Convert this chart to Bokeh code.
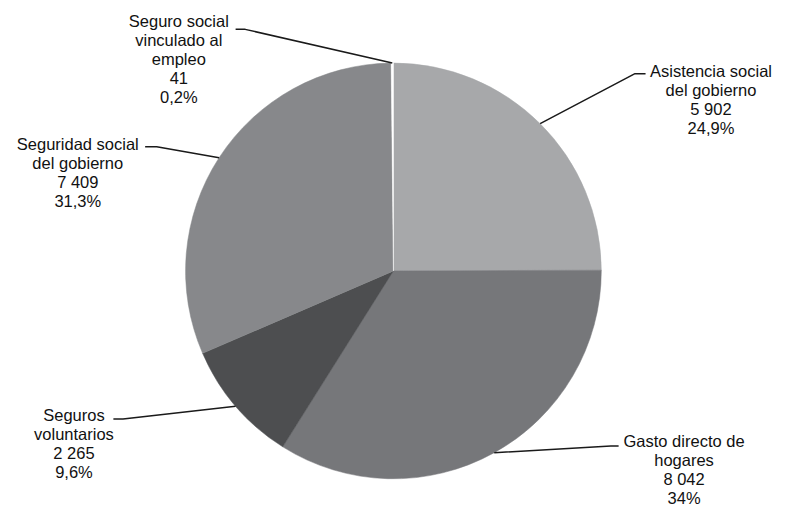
import numpy as np
from bokeh.plotting import figure
from bokeh.models import Range1d, ColumnDataSource
from bokeh.embed import file_html
from bokeh.resources import INLINE
from bokeh.core.properties import value

# ---- data ----
categories = ["Asistencia social del gobierno", "Gasto directo de hogares",
              "Seguros voluntarios", "Seguridad social del gobierno",
              "Seguro social vinculado al empleo"]
name_lines = [["Asistencia social", "del gobierno"],
              ["Gasto directo de", "hogares"],
              ["Seguros", "voluntarios"],
              ["Seguridad social", "del gobierno"],
              ["Seguro social", "vinculado al", "empleo"]]
values = [5902, 8042, 2265, 7409, 41]
value_labels = ["5 902", "8 042", "2 265", "7 409", "41"]
pct_labels = ["24,9%", "34%", "9,6%", "31,3%", "0,2%"]

# ---- style / layout ----
colors = ["#a7a8aa", "#76777a", "#4d4e50", "#87888b", "#ffffff"]
W, H = 782, 511
REF_W = 798
Y_TOP, Y_BOT = 2, 533                # reference pixel rows shown
s = H / (Y_BOT - Y_TOP)              # uniform scale so the reference layout fits
cx, cy, r = 401, 283, 216            # reference pixel coords
label_anchor = [(731, 75), (703, 460), (69, 433), (73, 151), (178, 23)]
elbows = [(652, 78), (627, 465), (120, 437), (155, 154), (247, 32)]
ends = [(663, 78), (635, 465), (110, 437), (143, 154), (237, 32)]
line_step = 19.8

def Y(py):
    return -py

half_w = W / s / 2
p = figure(width=W, height=H,
           x_range=Range1d(REF_W / 2 - half_w, REF_W / 2 + half_w),
           y_range=Range1d(-Y_BOT, -Y_TOP),
           output_backend="svg", toolbar_location=None,
           x_axis_location=None, y_axis_location=None, min_border=0)
p.grid.visible = False
p.outline_line_color = None
p.background_fill_color = "white"

vals = np.array(values, dtype=float)
frac = vals / vals.sum()
cum = np.concatenate([[0], np.cumsum(frac)]) * 2 * np.pi
start = np.pi / 2 - cum[:-1]
end = np.pi / 2 - cum[1:]

src = ColumnDataSource(dict(start=start, end=end, color=colors, cat=categories))
p.wedge(x=cx, y=Y(cy), radius=r, start_angle="start", end_angle="end",
        direction="clock", fill_color="color", line_color="color", line_width=0.5,
        source=src)

# leader lines from slice mid-angle on the rim
mid = (cum[:-1] + cum[1:]) / 2
xs, ys = [], []
for i in range(len(values)):
    px = cx + r * np.sin(mid[i])
    py = cy - r * np.cos(mid[i])
    xs.append([px, elbows[i][0], ends[i][0]])
    ys.append([Y(py), Y(elbows[i][1]), Y(ends[i][1])])
p.multi_line(xs=xs, ys=ys, line_color="#1a1a1a", line_width=1.5)

# labels
tx, ty, tt = [], [], []
for i in range(len(values)):
    lines = name_lines[i] + [value_labels[i], pct_labels[i]]
    ax, ay = label_anchor[i]
    for k, t in enumerate(lines):
        tx.append(ax)
        ty.append(Y(ay + k * line_step))
        tt.append(t)
p.text(x=tx, y=ty, text=tt, text_align="center", text_baseline="middle",
       text_font=value("Liberation Sans"), text_font_size="16.5px", text_color="#111111")

open("out.html", "w").write(file_html(p, INLINE))
